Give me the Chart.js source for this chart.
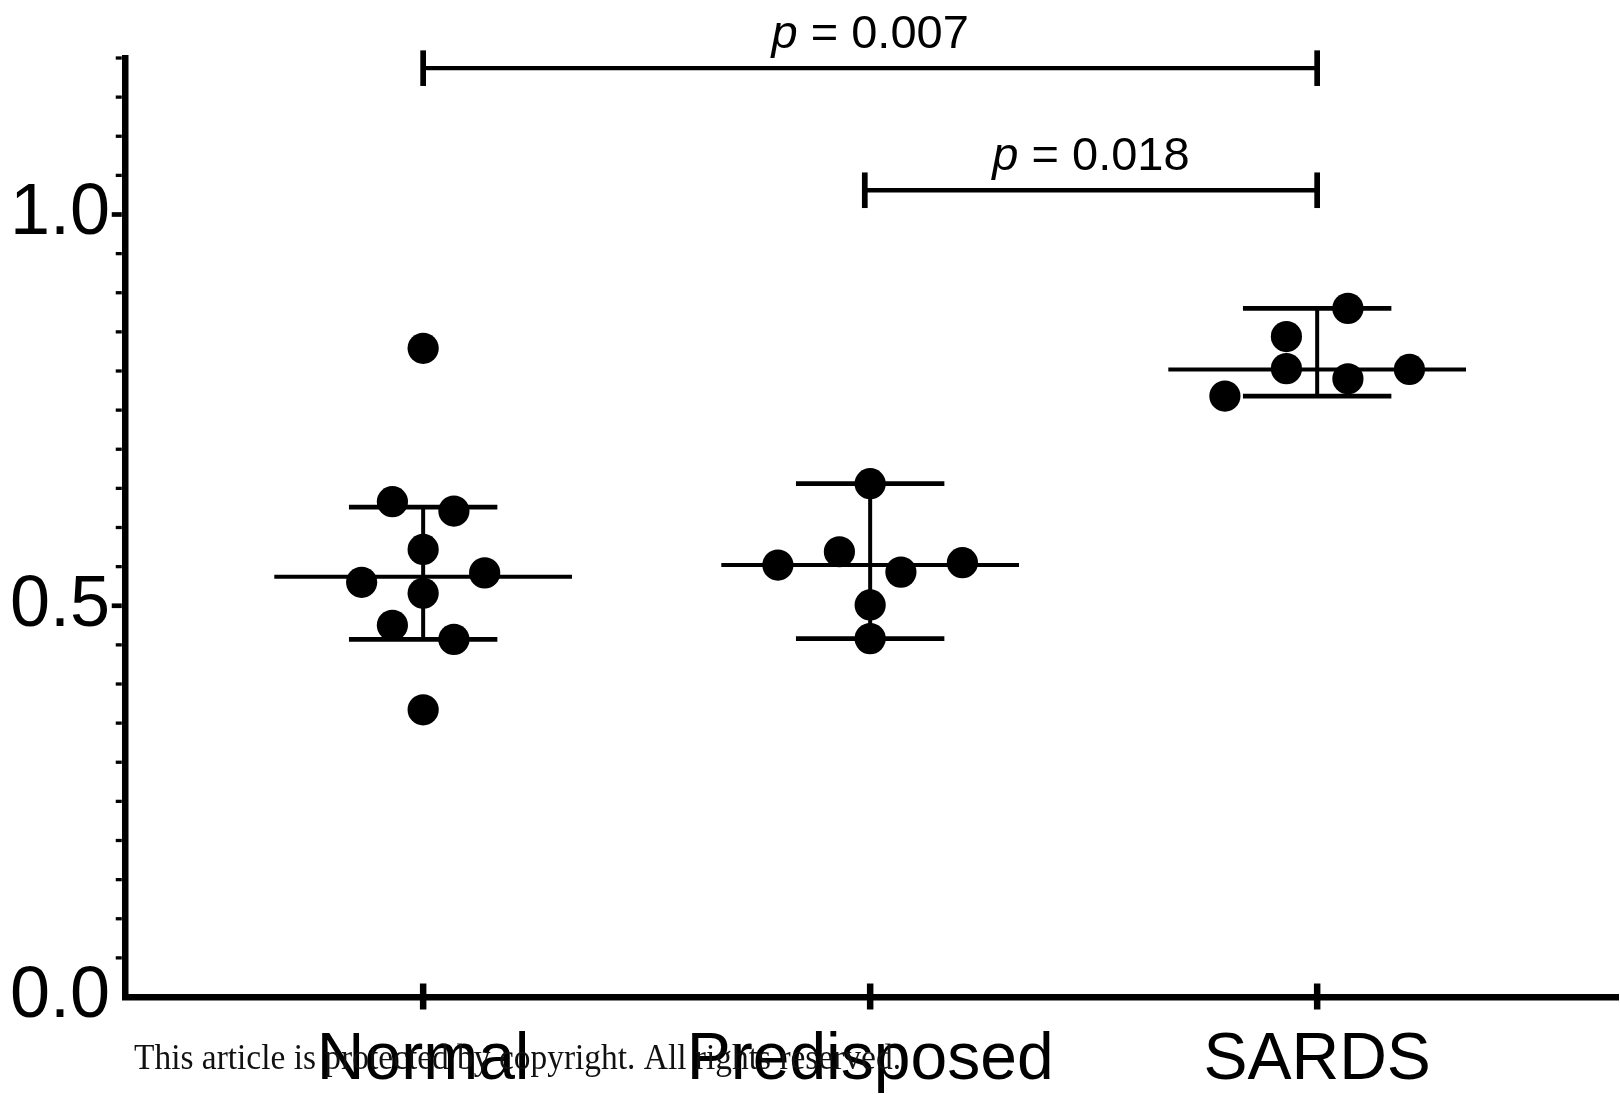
<!DOCTYPE html>
<html lang="en">
<head>
<meta charset="UTF-8">
<title>Normal / Predisposed / SARDS</title>
<script src="https://cdn.jsdelivr.net/npm/chart.js"></script>
<style>
  body { margin: 0; background: #fff; }
  .grafico { width: 1620px; height: 1094px; }
</style>
</head>
<body>
<div class="grafico"><canvas id="graficoPontos"></canvas></div>

<script>
var grupos = ['Normal', 'Predisposed', 'SARDS'];

// values per group
var normal = [0.829, 0.633, 0.621, 0.572, 0.530, 0.542, 0.516, 0.475, 0.457, 0.367];
var predisposto = [0.656, 0.552, 0.569, 0.543, 0.555, 0.501, 0.458];
var sards = [0.880, 0.844, 0.803, 0.790, 0.802, 0.768];

// scatter slot of each point (left / right of the group centre)
var slotNormal = [0, -1, 1, 0, -2, 2, 0, -1, 1, 0];
var slotPredisposto = [0, -3, -1, 1, 3, 0, 0];
var slotSards = [1, -1, -1, 1, 3, -3];

// median and whiskers as drawn
var mediana = [0.537, 0.552, 0.802];
var inferior = [0.457, 0.458, 0.768];
var superior = [0.626, 0.656, 0.880];

var yRotulos = [0, 0.5, 1.0];

// comparisons
var pDe = [0, 0.988];
var pAte = [2, 2];
var pNivel = [1.187, 1.031];
var pTexto = ['0.007', '0.018'];

var valoresGrupos = [normal, predisposto, sards];
var slotsGrupos = [slotNormal, slotPredisposto, slotSards];
var passo = 0.0688;

Chart.defaults.font.family = '"Liberation Sans", Arial, sans-serif';
Chart.defaults.color = '#000';

function segmento(x1, y1, x2, y2, largura) {
    return {
        data: [{ x: x1, y: y1 }, { x: x2, y: y2 }],
        showLine: true,
        borderColor: '#000',
        borderWidth: largura,
        borderCapStyle: 'butt',
        pointRadius: 0,
        pointHoverRadius: 0,
        order: 2
    };
}

var datasets = [];
grupos.forEach(function (nome, g) {
    datasets.push({
        label: nome,
        data: valoresGrupos[g].map(function (v, i) {
            return { x: g + slotsGrupos[g][i] * passo, y: v };
        }),
        backgroundColor: '#000',
        borderWidth: 0,
        pointRadius: 15.6,
        pointHoverRadius: 15.6,
        order: 1
    });
    datasets.push(segmento(g - 0.333, mediana[g], g + 0.333, mediana[g], 4));
    datasets.push(segmento(g - 0.166, superior[g], g + 0.166, superior[g], 4.7));
    datasets.push(segmento(g - 0.166, inferior[g], g + 0.166, inferior[g], 4.7));
    datasets.push(segmento(g, inferior[g], g, superior[g], 4));
});

// ticks, brackets, p values and the footer line
var extras = {
    id: 'extras',
    afterDraw: function (chart) {
        var ctx = chart.ctx;
        var sx = chart.scales.x, sy = chart.scales.y;
        var area = chart.chartArea;
        var esq = area.left - 3.25;
        ctx.save();
        ctx.strokeStyle = '#000';
        ctx.fillStyle = '#000';

        sy.ticks.forEach(function (t) {
            if (t.value === 0) return;
            var maior = t.label !== '';
            var py = sy.getPixelForValue(t.value);
            ctx.lineWidth = maior ? 4.7 : 3.3;
            ctx.beginPath();
            ctx.moveTo(esq, py);
            ctx.lineTo(esq - (maior ? 10 : 6), py);
            ctx.stroke();
        });

        ctx.lineWidth = 6.5;
        grupos.forEach(function (nome, g) {
            var px = sx.getPixelForValue(g);
            ctx.beginPath();
            ctx.moveTo(px, area.bottom - 13.5);
            ctx.lineTo(px, area.bottom + 12.5);
            ctx.stroke();
        });

        pDe.forEach(function (d, k) {
            var x1 = sx.getPixelForValue(d);
            var x2 = sx.getPixelForValue(pAte[k]);
            var py = sy.getPixelForValue(pNivel[k]);
            ctx.lineWidth = 4.3;
            ctx.beginPath();
            ctx.moveTo(x1, py);
            ctx.lineTo(x2, py);
            ctx.stroke();
            ctx.lineWidth = 5.7;
            [x1, x2].forEach(function (xx) {
                ctx.beginPath();
                ctx.moveTo(xx, py - 17.8);
                ctx.lineTo(xx, py + 17.8);
                ctx.stroke();
            });
            var resto = ' = ' + pTexto[k];
            ctx.font = 'italic 47px "Liberation Sans", Arial, sans-serif';
            var wp = ctx.measureText('p').width;
            ctx.font = '47px "Liberation Sans", Arial, sans-serif';
            var wr = ctx.measureText(resto).width;
            var x0 = (x1 + x2) / 2 - (wp + wr) / 2;
            ctx.textBaseline = 'alphabetic';
            ctx.textAlign = 'left';
            ctx.font = 'italic 47px "Liberation Sans", Arial, sans-serif';
            ctx.fillText('p', x0, py - 20);
            ctx.font = '47px "Liberation Sans", Arial, sans-serif';
            ctx.fillText(resto, x0 + wp, py - 20);
        });

        var aviso = 'This article is protected by copyright. All rights reserved.';
        ctx.font = '36px "Liberation Serif", "DejaVu Serif", serif';
        ctx.fillStyle = '#111';
        var w = ctx.measureText(aviso).width;
        ctx.translate(134, 1069);
        ctx.scale(767 / w, 1);
        ctx.fillText(aviso, 0, 0);
        ctx.restore();
    }
};

new Chart(document.getElementById('graficoPontos'), {
    type: 'scatter',
    data: { datasets: datasets },
    options: {
        responsive: true,
        maintainAspectRatio: false,
        animation: false,
        events: [],
        layout: { autoPadding: false, padding: { top: 58, right: 2, left: 0, bottom: 0 } },
        plugins: {
            legend: { display: false },
            tooltip: { enabled: false }
        },
        scales: {
            x: {
                type: 'linear',
                min: -0.667,
                max: 2.673,
                afterBuildTicks: function (scale) {
                    scale.ticks = grupos.map(function (n, g) { return { value: g }; });
                },
                afterFit: function (scale) {
                    scale.height = 97;
                    scale.paddingLeft = 0;
                    scale.paddingRight = 0;
                },
                grid: { display: false, drawTicks: false },
                border: { display: true, color: '#000', width: 6.5 },
                ticks: {
                    autoSkip: false,
                    maxRotation: 0,
                    padding: 24,
                    font: { size: 66 },
                    callback: function (v) { return grupos[v]; }
                }
            },
            y: {
                min: 0,
                max: 1.2,
                afterFit: function (scale) {
                    scale.width = 125;
                    scale.paddingTop = 0;
                    scale.paddingBottom = 0;
                },
                grid: { display: false, drawTicks: false },
                border: { display: true, color: '#000', width: 6.5 },
                ticks: {
                    stepSize: 0.05,
                    autoSkip: false,
                    padding: 15,
                    font: { size: 72 },
                    callback: function (v) {
                        var mostra = yRotulos.some(function (t) { return Math.abs(t - v) < 1e-6; });
                        return mostra ? v.toFixed(1) : '';
                    }
                }
            }
        }
    },
    plugins: [extras]
});
</script>
</body>
</html>
